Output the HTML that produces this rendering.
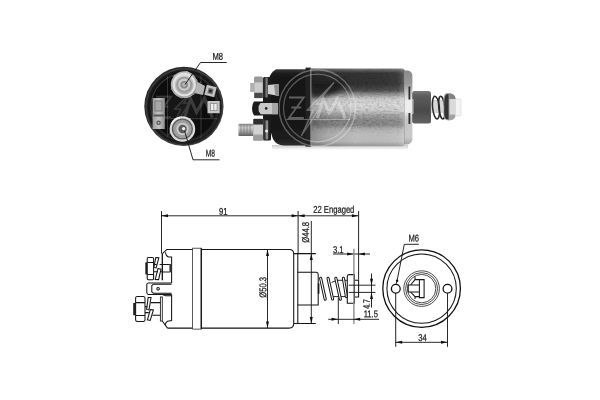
<!DOCTYPE html>
<html>
<head>
<meta charset="utf-8">
<title>Solenoid</title>
<style>
html,body{margin:0;padding:0;background:#fff;}
body{width:600px;height:400px;overflow:hidden;}
svg{display:block;}
text{font-family:"Liberation Sans",sans-serif;fill:#1c1c1c;stroke:#1c1c1c;stroke-width:0.25;}
.ln{stroke:#151515;stroke-width:1.05;fill:none;}
.lt{stroke:#1a1a1a;stroke-width:0.95;fill:none;}
.lk{stroke:#111;stroke-width:1.3;fill:none;}
.ar{fill:#111;stroke:none;}
</style>
</head>
<body>
<svg width="600" height="400" viewBox="0 0 600 400">
<defs>
<g id="wmr" fill="none" stroke="#fff">
<circle cx="0" cy="0" r="38.2" stroke-width="1.4"/>
<circle cx="0" cy="0" r="33.8" stroke-width="1.2"/>
</g>
<g id="wml" fill="none" stroke="#fff">
<path d="M-28.3,-10.5 H-13.5 L-28.3,10 H-13.5 M-26,-0.5 H-16" stroke-width="1.8"/>
<path d="M16.7,-25.5 L-1,-4 H5 L-16,28 L-4,2 H-10 Z" fill="#fff" fill-opacity="0.18" stroke-width="1.3"/>
<path d="M0,10.5 L6,-8.5 L12,5 L20,-9 L28,10.5" stroke-width="3.2" stroke-linejoin="miter"/>
<path d="M-31,11.5 H33" stroke-width="1"/>
</g>
<filter id="b1" x="-5%" y="-5%" width="110%" height="110%"><feGaussianBlur stdDeviation="0.7"/></filter>
<filter id="b2" x="-5%" y="-5%" width="110%" height="110%"><feGaussianBlur stdDeviation="0.45"/></filter>
<filter id="b0" x="-5%" y="-5%" width="110%" height="110%"><feGaussianBlur stdDeviation="0.3"/></filter>
</defs>
<rect x="0" y="0" width="600" height="400" fill="#ffffff"/>

<!-- PHOTO-END -->
<defs>
<radialGradient id="gcap" cx="0.5" cy="0.5" r="0.5">
<stop offset="0" stop-color="#161616"/><stop offset="0.8" stop-color="#0e0e0e"/><stop offset="0.9" stop-color="#181818"/><stop offset="0.97" stop-color="#2c2c2c"/><stop offset="1" stop-color="#262626"/>
</radialGradient>
<radialGradient id="gnut" cx="0.45" cy="0.4" r="0.6">
<stop offset="0" stop-color="#e6e6e6"/><stop offset="0.6" stop-color="#bdbdbd"/><stop offset="1" stop-color="#8c8c8c"/>
</radialGradient>
<linearGradient id="gtermL" x1="0" y1="0" x2="1" y2="0">
<stop offset="0" stop-color="#9a9a9a"/><stop offset="0.5" stop-color="#c4c4c4"/><stop offset="1" stop-color="#8e8e8e"/>
</linearGradient>
</defs>
<g id="photo-end" filter="url(#b1)">
<circle cx="183.9" cy="106.4" r="39.6" fill="url(#gcap)"/>
<!-- inner recess ring -->
<circle cx="184" cy="107" r="33" fill="none" stroke="#242424" stroke-width="1"/>
<!-- ribs -->
<path d="M167.5,76 V137 M201,74 V138" stroke="#3a3a3a" stroke-width="0.8" fill="none"/>
<!-- watermark faint -->
<use href="#wmr" x="184.5" y="107.2" opacity="0.1"/><use href="#wml" x="184.5" y="107.2" opacity="0.17"/>
<!-- left terminal -->
<rect x="152.6" y="98" width="12.2" height="31" fill="url(#gtermL)"/>
<rect x="153.5" y="114.5" width="10.6" height="2" fill="#5a5a5a"/>
<rect x="155" y="101" width="7" height="10" fill="#a8a8a8" stroke="#6e6e6e" stroke-width="0.8"/>
<circle cx="158.6" cy="122.8" r="2.2" fill="#555"/>
<circle cx="158.6" cy="122.8" r="1" fill="#bbb"/>
<!-- right terminal -->
<rect x="207.5" y="101" width="12.2" height="12.2" fill="#c6c6c6"/>
<rect x="210.5" y="103.6" width="6.6" height="7" fill="#efefef" stroke="#8a8a8a" stroke-width="0.8"/>
<path d="M213.8,103.6 V110.6" stroke="#8a8a8a" stroke-width="0.8"/>
<!-- top nut tab -->
<path d="M194,80 L205,86 L203,95 L194,93 Z" fill="#b4b4b4"/>
<g transform="rotate(14 210.5 91)">
<rect x="205.4" y="85.8" width="10.2" height="10.4" fill="#c2c2c2"/>
<rect x="208" y="88.4" width="5" height="5.2" fill="#6a6a6a"/>
<circle cx="210.5" cy="91" r="1.5" fill="#2a2a2a"/>
</g>
<!-- top nut -->
<circle cx="184.2" cy="84.7" r="13.4" fill="#b6b6b6"/>
<path d="M184.2,70.6 L196.4,77.6 L196.4,91.8 L184.2,98.8 L172,91.8 L172,77.6 Z" fill="url(#gnut)" transform="rotate(12 184.2 84.7)"/>
<circle cx="184.2" cy="84.7" r="10.6" fill="none" stroke="#e2e2e2" stroke-width="2.2"/>
<circle cx="184.2" cy="84.7" r="8" fill="#9a9a9a"/>
<circle cx="184.2" cy="84.7" r="6.2" fill="#c9c9c9"/>
<circle cx="184.2" cy="84.7" r="3.8" fill="#8a8a8a"/>
<circle cx="184.2" cy="84.7" r="2" fill="#b8b8b8"/>
<!-- bottom nut -->
<circle cx="182.4" cy="129" r="12.8" fill="#dadada"/>
<circle cx="182.4" cy="129" r="10.6" fill="#5c5c5c"/>
<circle cx="182.4" cy="129" r="9.3" fill="#9e9e9e"/>
<circle cx="182.6" cy="129" r="6.2" fill="#cacaca"/>
<circle cx="182.6" cy="129" r="4.2" fill="#5a5a5a"/>
<circle cx="183.6" cy="128.6" r="1.7" fill="#eeeeee"/>
<path d="M171.5,124 A12,12 0 0 1 180,117.4" stroke="#fff" stroke-width="1.6" fill="none" opacity="0.7"/>
</g>

<!-- PHOTO-SIDE -->
<defs>
<linearGradient id="gbody" x1="0" y1="0" x2="0" y2="1">
<stop offset="0" stop-color="#808080"/>
<stop offset="0.03" stop-color="#585858"/>
<stop offset="0.06" stop-color="#343434"/>
<stop offset="0.2" stop-color="#323232"/>
<stop offset="0.28" stop-color="#4c4c4c"/>
<stop offset="0.33" stop-color="#8a8a8a"/>
<stop offset="0.39" stop-color="#cdcdcd"/>
<stop offset="0.47" stop-color="#dadada"/>
<stop offset="0.54" stop-color="#cccccc"/>
<stop offset="0.6" stop-color="#a4a4a4"/>
<stop offset="0.67" stop-color="#868686"/>
<stop offset="0.73" stop-color="#888888"/>
<stop offset="0.78" stop-color="#b0b0b0"/>
<stop offset="0.85" stop-color="#bebebe"/>
<stop offset="0.94" stop-color="#bcbcbc"/>
<stop offset="0.98" stop-color="#a2a2a2"/>
<stop offset="1" stop-color="#9a9a9a"/>
</linearGradient>
<linearGradient id="gbodyx" x1="0" y1="0" x2="1" y2="0">
<stop offset="0" stop-color="#000" stop-opacity="0.28"/>
<stop offset="0.2" stop-color="#000" stop-opacity="0.1"/>
<stop offset="0.5" stop-color="#000" stop-opacity="0"/>
<stop offset="0.93" stop-color="#fff" stop-opacity="0.05"/>
<stop offset="1" stop-color="#fff" stop-opacity="0.25"/>
</linearGradient>
<filter id="noiseK" x="0" y="0" width="100%" height="100%">
<feTurbulence type="fractalNoise" baseFrequency="0.35 0.55" numOctaves="2" seed="3"/>
<feColorMatrix type="matrix" values="0 0 0 0 0  0 0 0 0 0  0 0 0 0 0  2.4 0 0 0 -1.0"/>
<feComposite operator="in" in2="SourceGraphic"/>
</filter>
<filter id="noiseW" x="0" y="0" width="100%" height="100%">
<feTurbulence type="fractalNoise" baseFrequency="0.3 0.5" numOctaves="2" seed="11"/>
<feColorMatrix type="matrix" values="0 0 0 0 1  0 0 0 0 1  0 0 0 0 1  0 2.4 0 0 -1.0"/>
<feComposite operator="in" in2="SourceGraphic"/>
</filter>
<linearGradient id="gcapside" x1="0" y1="0" x2="0" y2="1">
<stop offset="0" stop-color="#3a3a3a"/>
<stop offset="0.06" stop-color="#1a1a1a"/>
<stop offset="0.5" stop-color="#121212"/>
<stop offset="0.9" stop-color="#1c1c1c"/>
<stop offset="1" stop-color="#2e2e2e"/>
</linearGradient>
<linearGradient id="gplg" x1="0" y1="0" x2="0" y2="1">
<stop offset="0" stop-color="#7c7c7c"/>
<stop offset="0.15" stop-color="#5c5c5c"/>
<stop offset="0.6" stop-color="#4a4a4a"/>
<stop offset="1" stop-color="#626262"/>
</linearGradient>
<linearGradient id="gstud" x1="0" y1="0" x2="0" y2="1">
<stop offset="0" stop-color="#8a8a8a"/>
<stop offset="0.3" stop-color="#d0d0d0"/>
<stop offset="0.7" stop-color="#9a9a9a"/>
<stop offset="1" stop-color="#5e5e5e"/>
</linearGradient>
<linearGradient id="gshadow" x1="0" y1="0" x2="0" y2="1">
<stop offset="0" stop-color="#bdbdbd"/>
<stop offset="1" stop-color="#ffffff"/>
</linearGradient>
</defs>
<g id="photo-side" filter="url(#b1)">
<!-- soft shadow under body -->
<rect x="272" y="145" width="136" height="5" fill="url(#gshadow)" opacity="0.8"/>
<!-- metal body -->
<path d="M308,68.4 H402 Q404.6,68.6 405,71 V144 Q404.6,146 402,146.2 H308 Z" fill="url(#gbody)"/>
<path d="M308,68.4 H402 Q404.6,68.6 405,71 V144 Q404.6,146 402,146.2 H308 Z" fill="url(#gbodyx)"/>
<linearGradient id="gmask" x1="0" y1="0" x2="0" y2="1"><stop offset="0" stop-color="#888"/><stop offset="0.25" stop-color="#fff"/><stop offset="0.7" stop-color="#fff"/><stop offset="0.85" stop-color="#333"/><stop offset="1" stop-color="#222"/></linearGradient>
<mask id="mnoise" maskUnits="userSpaceOnUse" x="300" y="60" width="120" height="95"><rect x="311" y="68" width="94" height="78.4" fill="url(#gmask)"/></mask>
<g mask="url(#mnoise)"><path d="M311,69 H405 V146 H311 Z" fill="#000" filter="url(#noiseK)" opacity="0.17"/></g>
<g mask="url(#mnoise)"><path d="M311,93 H405 V146 H311 Z" fill="#fff" filter="url(#noiseW)" opacity="0.1"/></g>
<filter id="b3" x="-20%" y="-20%" width="140%" height="140%"><feGaussianBlur stdDeviation="2.2"/></filter>
<path d="M311,80 H346 Q340,97 311,98 Z" fill="#1e1e1e" opacity="0.85" filter="url(#b3)"/>
<!-- right bevel edge -->
<linearGradient id="gring" x1="0" y1="0" x2="0" y2="1">
<stop offset="0" stop-color="#8a8a8a"/><stop offset="0.18" stop-color="#9a9a9a"/><stop offset="0.3" stop-color="#c8c8c8"/><stop offset="0.42" stop-color="#eeeeee"/><stop offset="0.55" stop-color="#eeeeee"/><stop offset="0.65" stop-color="#c6c6c6"/><stop offset="0.9" stop-color="#c8c8c8"/><stop offset="1" stop-color="#a8a8a8"/>
</linearGradient>
<path d="M404,70.6 H408 Q412.4,72 412.4,76 V139 Q412.4,143 408,144.4 H404 Z" fill="url(#gring)"/>
<path d="M409.4,86.5 V99.5 M409.4,113 V124" stroke="#2e2e2e" stroke-width="1.8" fill="none"/>
<path d="M404.4,71 V144" stroke="#8a8a8a" stroke-width="0.8" opacity="0.6"/>
<!-- black cap -->
<path d="M276,69.2 H310 V145.6 H284 Q276,145 273,139 L269.4,128 V78 Q270,73 276,69.2 Z" fill="url(#gcapside)"/>
<rect x="263" y="77" width="8" height="63.6" rx="1.5" fill="#1c1c1c"/>
<!-- cap rim -->
<rect x="305.5" y="67.6" width="5.5" height="79" fill="#222"/>
<rect x="310" y="68" width="1.6" height="78" fill="#8c8c8c" opacity="0.7"/>
<!-- cap left recess highlight -->
<!-- top nut and washers -->
<rect x="250.2" y="83" width="4" height="9" fill="#b0b0b0"/>
<rect x="254" y="76.6" width="9" height="21.6" rx="1.5" fill="#9a9a9a"/>
<rect x="254.4" y="82.4" width="8.2" height="10" fill="#cdcdcd"/>
<rect x="254.4" y="93" width="8.2" height="5" fill="#4a4a4a"/>
<rect x="263" y="78" width="2.6" height="19" fill="#2a2a2a"/>
<rect x="265.4" y="77.4" width="2.4" height="20" fill="#777"/>
<!-- top bracket -->
<path d="M268,85 L278,84 L279,96 L268,94 Z" fill="#d2d2d2"/>
<path d="M274,84.4 L279,84 L279,96 L275.4,95.4 Z" fill="#8e8e8e"/>
<!-- middle blade terminal -->
<path d="M254,101.6 H277 V115.4 H254 Q252,113 252,108.5 Q252,104 254,101.6 Z" fill="#1a1a1a"/>
<path d="M260.6,103 H278 V114.2 H260.6 L258.6,111 V106 Z" fill="#c9c9c9"/>
<rect x="272" y="103" width="6" height="11.2" fill="#a6a6a6"/>
<circle cx="266.2" cy="108.4" r="1.3" fill="#222"/>
<!-- bottom stud -->
<rect x="238.4" y="123.8" width="15" height="12.2" rx="1" fill="url(#gstud)"/>
<path d="M241,124 V136 M244,124 V136 M247,124 V136 M250,124 V136" stroke="#666" stroke-width="0.8" opacity="0.7"/>
<rect x="253" y="118.4" width="10.4" height="22.4" rx="1.5" fill="#aaaaaa"/>
<rect x="253.4" y="119" width="9.6" height="5.4" fill="#2e2e2e"/>
<rect x="253.4" y="125" width="9.6" height="9.4" fill="#d2d2d2"/>
<rect x="253.4" y="135.4" width="9.6" height="5" fill="#9c9c9c"/>
<rect x="263.4" y="119.6" width="2.4" height="20" fill="#333"/>
<rect x="265.6" y="120.4" width="2.6" height="19" fill="#8a8a8a"/>
<circle cx="266.6" cy="131" r="1.6" fill="#e8e8e8"/>
<!-- plunger -->
<rect x="412.2" y="91" width="18.8" height="32.6" rx="2.4" fill="url(#gplg)"/>
<rect x="412" y="99" width="1.6" height="15" fill="#d0d0d0" opacity="0.7"/>
<!-- spring -->
<rect x="430" y="100" width="14" height="13" fill="#8a8a8a" opacity="0.35"/>
<g fill="none" stroke="#2a2a2a" stroke-width="1.5">
<ellipse cx="436" cy="107.6" rx="3.4" ry="11.4" transform="rotate(-6 436 107.6)"/>
<ellipse cx="441.8" cy="107.6" rx="3" ry="11.4" transform="rotate(-6 441.8 107.6)"/>
</g>
<!-- end cap -->
<path d="M446,93.2 Q450,92.4 453.4,94.4 Q455.8,96.4 455.8,100 V114 Q455.8,118 453.4,119.6 Q450,121 446,120 Q443.4,118 443.4,113 V100 Q443.4,95 446,93.2 Z" fill="#a2a2a2"/>
<path d="M446,94.4 Q444.2,97 444.2,101 V112.6 Q444.2,117.4 446,119 L448.6,119.4 V94 Z" fill="#333"/>
<rect x="449.6" y="99" width="6" height="15.6" fill="#dadada"/>
<path d="M449.4,93.4 Q453,93.6 455,96 L455.4,99 H449.4 Z" fill="#7a7a7a" opacity="0.8"/>
<rect x="455.4" y="99" width="5.6" height="17" rx="1.2" fill="#f4f4f4" stroke="#d8d8d8" stroke-width="0.7"/>
<!-- watermark -->
<use href="#wmr" x="317.3" y="108" opacity="0.3"/><use href="#wml" x="317.3" y="108" opacity="0.32"/>
</g>

<!-- LABELS-TOP -->
<g id="labels-top" filter="url(#b0)">
<path class="lt" d="M226.8,62.5 H200.5 L185,84.6" stroke="#222" stroke-width="0.9"/>
<text transform="translate(217.8,59.8) rotate(0.2) scale(0.78,1)" font-size="9.8" text-anchor="middle">M8</text>
<path class="lt" d="M219.5,159.8 H193 L184.6,131" stroke="#222" stroke-width="0.9"/>
<text transform="translate(210.3,156.5) rotate(0.2) scale(0.68,1)" font-size="9.8" text-anchor="middle">M8</text>
</g>


<!-- DRAWING -->
<g id="drawing" filter="url(#b0)">
<!-- SIDE-VIEW -->
<!-- body outline -->
<path class="ln" d="M167,249.4 H289.5 Q293.6,249.6 293.7,253.5 V323.8 Q293.6,327.9 289.5,328.1 H167.5"/>
<path class="ln" d="M167,249.4 L162.4,253.6"/>
<path class="ln" d="M162.3,321 L167.5,328.1"/>
<!-- band -->
<rect x="192.6" y="248.2" width="8.6" height="80.9" fill="#fff" stroke="#333" stroke-width="0.8"/>
<line class="lk" x1="201.3" y1="248.2" x2="201.3" y2="329.1"/>
<!-- flange -->
<path class="ln" d="M293.7,253.6 H315.8 M293.7,323.5 H315.8"/>
<line class="ln" x1="297.8" y1="253.6" x2="297.8" y2="323.5"/>
<!-- collar -->
<path class="ln" d="M297.6,272.3 H316.2 Q318.2,272.5 318.2,274.5 V305 H297.6"/>
<!-- cap left features top -->
<line class="lk" x1="162.3" y1="253.6" x2="162.3" y2="280.2"/>
<path class="ln" d="M165.4,252.3 Q166.2,256.6 168.5,256.9 L171.6,257.1 V283"/>
<!-- top nut -->
<rect x="145.3" y="262.4" width="2" height="12" fill="#222"/>
<path class="ln" d="M148.3,257.5 H152.5 Q153.6,257.6 153.6,259 V278.3 Q153.6,279.7 152.5,279.8 H148.3 Q147.2,279.7 147.2,278.3 V259 Q147.2,257.6 148.3,257.5 Z" fill="#fff"/>
<path class="ln" d="M147.2,262.5 H153.6 M147.2,274.4 H153.6"/>
<!-- top washers -->
<path class="ln" stroke-width="1.3" d="M155.8,257.6 L158.8,257.8 L156.2,267.8 L153.8,267.4 Z" fill="#fff"/>
<path class="ln" stroke-width="1.3" d="M158,268.6 L161,269.2 L158.6,279.6 L155.2,279.4 Z" fill="#fff"/>
<path class="ln" d="M154,264.5 H156.6 M154,271.8 H157.8 M159.6,264.5 H162.3 M160.4,271.8 H162.3"/>
<!-- top stud inside cap -->
<path class="ln" d="M162.3,264.4 H169.6 M162.3,271.9 H169.6"/>
<rect x="169.4" y="264" width="2.2" height="8.3" fill="#333"/>
<!-- middle blade terminal -->
<path class="ln" d="M171.6,283 H148.2 Q146.8,283.2 146.8,284.6 V292.6 Q146.8,294.2 148.2,294.4 H171.6" fill="#fff"/>
<path class="ln" d="M171.6,284.2 H153.4 L151.8,285.6 V291.8 L153.4,293.2 H171.6" stroke-width="1.1"/>
<circle class="ln" cx="158.1" cy="288.8" r="1.3" stroke-width="1.2"/>
<path class="ln" d="M162.5,294.6 L165.5,295.8 H171.6"/>
<!-- bottom part of cap -->
<path class="ln" d="M171.6,294.4 V320.6 L167.5,321.2 Q165.6,322 165.2,325.2"/>
<rect x="160.4" y="297" width="1.9" height="24" fill="#fff" stroke="#222" stroke-width="0.9"/>
<!-- bottom nut -->
<rect x="133.2" y="303" width="2.2" height="12.2" fill="#222"/>
<path class="ln" d="M137,296.5 H143.6 Q145,296.7 145,298.2 V319.8 Q145,321.3 143.6,321.5 H137 Q135.6,321.3 135.6,319.8 V298.2 Q135.6,296.7 137,296.5 Z" fill="#fff"/>
<path class="ln" d="M135.6,302.6 H145 M135.6,315.5 H145"/>
<!-- bottom washers -->
<path class="ln" stroke-width="1.3" d="M148.2,297.4 L151,297.6 L149,309.8 L146.6,309.4 Z" fill="#fff"/>
<path class="ln" stroke-width="1.3" d="M150.4,309.4 L153.4,310 L150.2,320.4 L147.4,319.8 Z" fill="#fff"/>
<path class="ln" d="M145,306.8 H147.4 M145,312.6 H148.8"/>
<!-- bottom stud -->
<path class="ln" d="M150.6,302.6 H160.4 M152.4,315.2 H160.4"/>
<!-- plunger rod through spring -->
<path class="lt" d="M331.6,282.4 L337,280.3 H347.2 M331,295 L333.6,296.6 H347.2"/>
<rect x="317.8" y="283.4" width="1.6" height="10.4" fill="#151515"/>
<!-- spring coils -->
<g stroke-linecap="round">
<path d="M320.6,278.2 L325.2,299.2 M328,278.2 L332.6,299 M335.8,278.2 L340.4,299.2 M343.4,278.2 L346.4,296.6" stroke="#151515" stroke-width="3.1" fill="none"/>
<path d="M320.6,278.2 L325.2,299.2 M328,278.2 L332.6,299 M335.8,278.2 L340.4,299.2 M343.4,278.2 L346.4,296.6" stroke="#fff" stroke-width="1.1" fill="none"/>
</g>
<!-- end disc -->
<path class="ln" d="M349,274.6 H354.5 V303.2 H347.3 V276.4 Q347.4,274.8 349,274.6 Z" fill="#fff"/>
<!-- tip -->
<path class="ln" d="M354.5,280.2 H358.6 V297 H354.5" stroke-width="1.2"/>

<!-- DIMS -->
<!-- 91 dim -->
<line class="lt" x1="161.5" y1="211" x2="161.5" y2="253.6"/>
<line class="lt" x1="298.1" y1="211" x2="298.1" y2="253.6"/>
<line class="lt" x1="161.5" y1="215.8" x2="298.1" y2="215.8"/>
<path class="ar" d="M161.5,215.8 l6.5,-1.5 v3 z"/>
<path class="ar" d="M298.1,215.8 l-6.5,-1.5 v3 z"/>
<text transform="translate(223.3,214.8) rotate(0.2) scale(0.78,1)" font-size="9.8" text-anchor="middle">91</text>
<!-- 22 engaged -->
<line class="lt" x1="358.6" y1="211" x2="358.6" y2="279.8"/>
<line class="lt" x1="298.1" y1="215.8" x2="358.4" y2="215.8"/>
<path class="ar" d="M298.1,215.8 l6.5,-1.5 v3 z"/>
<path class="ar" d="M358.4,215.8 l-6.5,-1.5 v3 z"/>
<text transform="translate(333.8,212.8) rotate(0.2) scale(0.78,1)" font-size="9.8" text-anchor="middle">22 Engaged</text>
<!-- dia 44.8 -->
<line class="lt" x1="311.3" y1="221" x2="311.3" y2="323.5"/>
<path class="ar" d="M311.3,253.6 l-1.5,6.5 h3 z"/>
<path class="ar" d="M311.3,323.5 l-1.5,-6.5 h3 z"/>
<text transform="translate(309.1,232.3) rotate(-89.8) scale(0.78,1)" font-size="9.8" text-anchor="middle">&#216;44.8</text>
<!-- dia 50.3 -->
<line class="lt" x1="267.5" y1="249.4" x2="267.5" y2="328.1"/>
<path class="ar" d="M267.5,249.4 l-1.5,6.5 h3 z"/>
<path class="ar" d="M267.5,328.1 l-1.5,-6.5 h3 z"/>
<text transform="translate(266.2,287.4) rotate(-89.8) scale(0.78,1)" font-size="9.8" text-anchor="middle">&#216;50.3</text>
<!-- 3.1 -->
<line class="lt" x1="333" y1="254" x2="370" y2="254"/>
<line x1="353.9" y1="248.8" x2="353.9" y2="324" stroke="#8c8c8c" stroke-width="1.4" fill="none"/>
<path class="ar" d="M353.7,254 l-6.5,-1.5 v3 z"/>
<path class="ar" d="M358.4,254 l6.5,-1.5 v3 z"/>
<text transform="translate(338.2,253) rotate(0.2) scale(0.78,1)" font-size="9.8" text-anchor="middle">3.1</text>
<!-- 4.7 -->
<path class="lt" d="M348.7,285.2 H375.5 M348.7,292.4 H375.5"/>
<line class="lt" x1="371.5" y1="273.5" x2="371.5" y2="307.6"/>
<path class="ar" d="M371.5,285.2 l-1.5,-6.5 h3 z"/>
<path class="ar" d="M371.5,292.4 l-1.5,6.5 h3 z"/>
<text transform="translate(370.1,304) rotate(-89.8) scale(0.7,1)" font-size="9.8" text-anchor="middle">4.7</text>
<!-- 11.5 -->
<line class="lt" x1="338.3" y1="297.6" x2="338.3" y2="324"/>
<line class="lt" x1="328.2" y1="319.3" x2="379" y2="319.3"/>
<path class="ar" d="M338,319.3 l-6.5,-1.5 v3 z"/>
<path class="ar" d="M353.7,319.3 l6.5,-1.5 v3 z"/>
<text transform="translate(370.8,317.2) rotate(0.2) scale(0.78,1)" font-size="9.8" text-anchor="middle">11.5</text>

<!-- END-VIEW -->
<circle cx="421.6" cy="288.6" r="38.8" class="lk" stroke-width="1.5"/>
<circle cx="421.6" cy="288.6" r="34.7" class="ln"/>
<!-- holes -->
<circle cx="395.8" cy="288.7" r="4.4" class="lk" stroke-width="1.2"/>
<circle cx="447.5" cy="288.7" r="4.4" class="lk" stroke-width="1.2"/>
<!-- inner plunger shape -->
<path class="ln" d="M419.4,279.6 H424.1 V297.6 H419.4 Z"/>
<path class="ln" d="M419.4,285 H408.2 V292 H419.4"/>
<path class="ln" d="M419.4,279.6 H415 V276.6 M415,279.6 L410.6,285 M410.6,292 L415,296.6 H419.4 M415,296.6 V299"/>
<!-- M6 label -->
<path class="lt" d="M418.8,244.3 H404.3 L397,281"/>
<circle cx="397.1" cy="280.8" r="1.2" fill="#111"/>
<path class="lt" d="M397,281 L396,284.4"/>
<text transform="translate(413.8,241.5) rotate(0.2) scale(0.78,1)" font-size="9.8" text-anchor="middle">M6</text>
<!-- 34 dim -->
<line class="lt" x1="395.7" y1="293" x2="395.7" y2="346.8"/>
<line class="lt" x1="447.5" y1="293" x2="447.5" y2="346.8"/>
<line class="lt" x1="395.7" y1="342.3" x2="447.5" y2="342.3"/>
<path class="ar" d="M395.7,342.3 l6.5,-1.5 v3 z"/>
<path class="ar" d="M447.5,342.3 l-6.5,-1.5 v3 z"/>
<text transform="translate(422.6,341) rotate(0.2) scale(0.78,1)" font-size="9.8" text-anchor="middle">34</text>

</g>
<g fill="none" stroke="#111" stroke-width="0.75">
<circle cx="421.6" cy="288.6" r="17.8"/><circle cx="421.6" cy="288.6" r="16"/><circle cx="421.6" cy="288.6" r="14.2"/>
</g>
</svg>
</body>
</html>
